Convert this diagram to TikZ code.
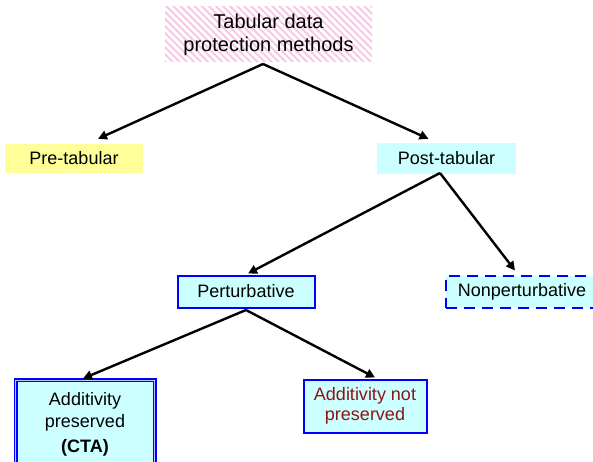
\documentclass[tikz,border=0pt]{standalone}
\usepackage{fontspec}
\setmainfont{Liberation Sans}
\usetikzlibrary{arrows.meta,patterns.meta,calc}
\definecolor{paleyellow}{RGB}{255,255,153}
\definecolor{palecyan}{RGB}{204,255,255}
\definecolor{hatchpink}{RGB}{247,200,228}
\definecolor{darkred}{RGB}{140,20,20}
\begin{document}
\begin{tikzpicture}[x=1pt,y=-1pt,
  every node/.style={font=\fontsize{18}{21}\selectfont, inner sep=0pt, align=center},
  bluebox/.style={draw=blue, line width=2pt, fill=palecyan},
  arr/.style={line width=2.4pt, -{Triangle[length=9pt,width=9pt]}}
]
\useasboundingbox (0,0) rectangle (593,462);
\node[pattern={Lines[angle=-45,distance=5pt,line width=2pt]}, pattern color=hatchpink,
      minimum width=207pt, minimum height=55pt,
      font=\fontsize{20}{23}\selectfont] (top) at (268.5,34.5) {Tabular data\\protection methods};
\node[fill=paleyellow, minimum width=138pt, minimum height=29pt] (pre) at (74,158.5) {Pre-tabular};
\node[fill=palecyan, minimum width=139pt, minimum height=31pt] (post) at (446.5,158.5) {Post-tabular};
\node[bluebox, minimum width=137pt, minimum height=32pt] (pert) at (246,291.5) {Perturbative};
\node[bluebox, dash pattern=on 11pt off 7pt, minimum width=162pt, minimum height=32pt] (nonpert) at (527,291.5) {\hspace*{-10pt}Nonperturbative};
\node[draw=blue, line width=1.5pt, double=palecyan!50!blue!45, double distance=1pt, fill=palecyan,
      minimum width=139pt, minimum height=88pt, anchor=north, font=\fontsize{18}{22}\selectfont] (addp) at (85,379.5)
      {Additivity\\preserved\\[3pt]\textbf{(CTA)}};
\node[bluebox, minimum width=123pt, minimum height=53pt, text=darkred, font=\fontsize{18}{20}\selectfont] (addn) at (365,406) {Additivity not\\preserved};
\coordinate (a1) at (263,64);
\coordinate (a2) at (440,173);
\coordinate (a3) at (246,310);
\draw[arr] (a1) -- ($(pre.north)+(24,-5)$);
\draw[arr] (a1) -- ($(post.north)+(-18,-4)$);
\draw[arr] (a2) -- ($(pert.north)+(2,-1)$);
\draw[arr] (a2) -- ($(nonpert.north)+(-12,-4)$);
\draw[arr] (a3) -- ($(addp.north)+(-2,-1)$);
\draw[arr] (a3) -- ($(addn.north)+(10,-1)$);
\end{tikzpicture}
\end{document}
